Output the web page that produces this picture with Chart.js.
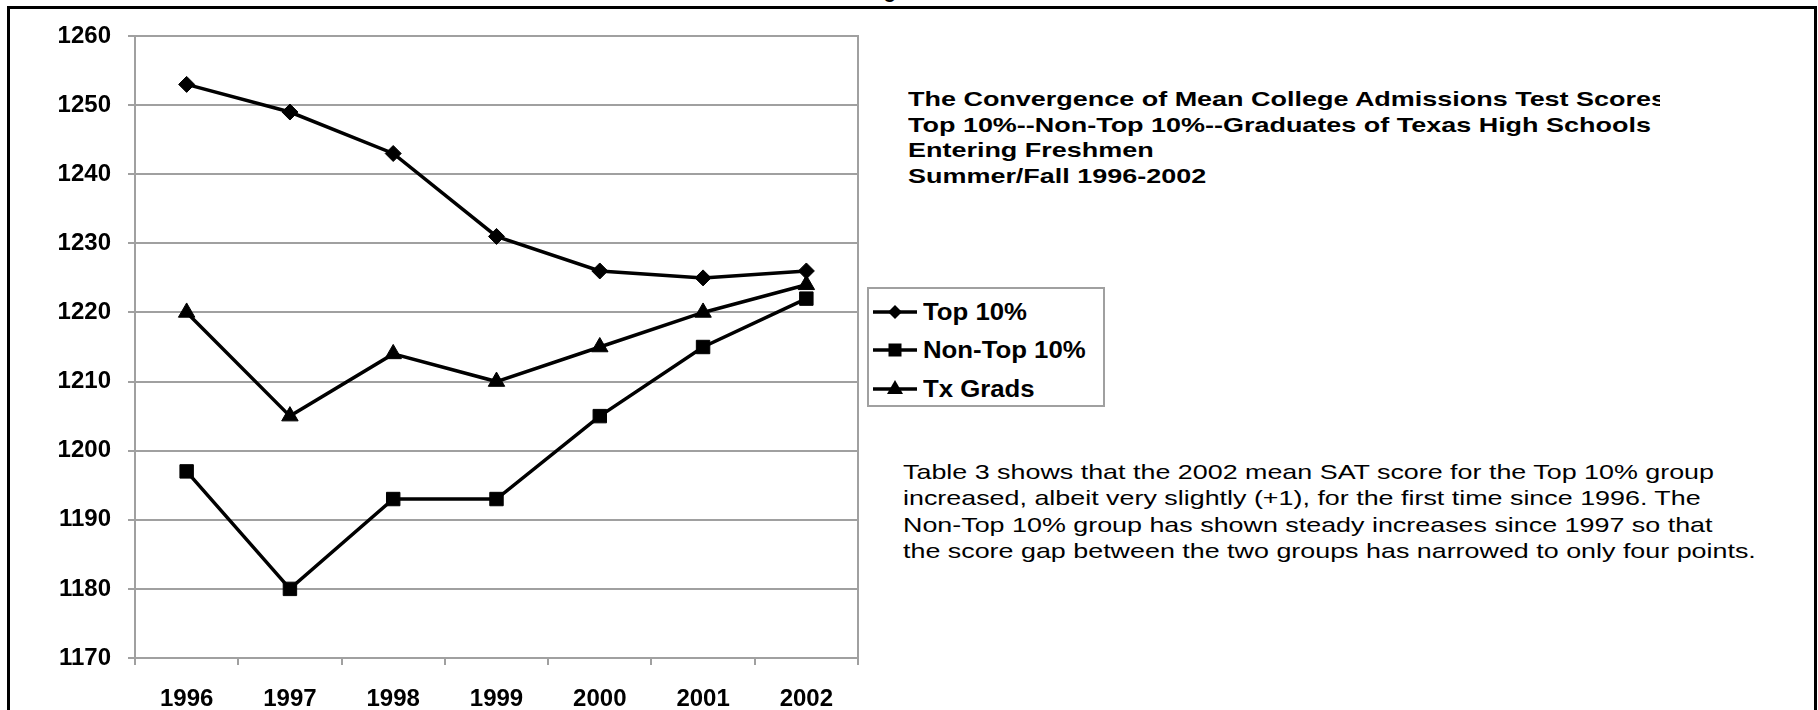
<!DOCTYPE html>
<html>
<head>
<meta charset="utf-8">
<script src="https://cdn.jsdelivr.net/npm/chart.js@4"></script>
<style>
  body { margin: 0; background: #fff; width: 1818px; height: 710px; overflow: hidden; position: relative;
         font-family: "Liberation Sans", Arial, sans-serif; color: #000; }
  #frame { position: absolute; left: 7px; top: 6px; width: 1804px; height: 760px; border: 3px solid #000; }
  #fig { position: absolute; left: 866px; top: -19px; font-size: 20px; line-height: 20px; font-weight: bold; }
  #chart-box { position: absolute; left: 0; top: 0; width: 880px; height: 710px; }
  #legend { position: absolute; left: 867px; top: 287px; width: 234px; height: 116px; border: 2px solid #a0a0a0; background: #fff; }
  .legend-item { position: absolute; left: 4px; height: 30px; display: flex; align-items: center;
                 font-size: 23px; font-weight: bold; }
  .legend-item svg { margin-right: 6px; }
  .legend-item span { display: inline-block; transform: scaleX(1.12); transform-origin: left center; }
  #title-clip { position: absolute; left: 908px; top: 86px; width: 752px; height: 110px; overflow: hidden; }
  #title { font-size: 21px; line-height: 25.5px; font-weight: bold; white-space: nowrap; transform-origin: left top; }
  #note { position: absolute; left: 903px; top: 459px; font-size: 21px; line-height: 26.3px;
          white-space: nowrap; transform-origin: left top; }
</style>
</head>
<body>
<div id="fig">Figure 3</div>
<div id="frame"></div>
<div id="chart-box"><canvas id="sat-chart"></canvas></div>
<div id="legend"></div>
<div id="title-clip"><div id="title"><span id="title-first">The Convergence of Mean College Admissions Test Scores</span><br>Top 10%--Non-Top 10%--Graduates of Texas High Schools<br>Entering Freshmen<br>Summer/Fall 1996-2002</div></div>
<div id="note"><span id="note-first">Table 3 shows that the 2002 mean SAT score for the Top 10% group</span><br>increased, albeit very slightly (+1), for the first time since 1996. The<br>Non-Top 10% group has shown steady increases since 1997 so that<br>the score gap between the two groups has narrowed to only four points.</div>
<script>
// chart data
const years = ['1996', '1997', '1998', '1999', '2000', '2001', '2002'];
const top10 = [1253, 1249, 1243, 1231, 1226, 1225, 1226];
const nonTop10 = [1197, 1180, 1193, 1193, 1205, 1215, 1222];
const txGrads = [1220, 1205, 1214, 1210, 1215, 1220, 1224];
const seriesNames = ['Top 10%', 'Non-Top 10%', 'Tx Grads'];
const yTicks = [1170, 1180, 1190, 1200, 1210, 1220, 1230, 1240, 1250, 1260];

const gridGray = '#a0a0a0';
const tickFont = { family: 'Liberation Sans', size: 24, weight: 'bold' };

function lineSet(label, data, style, radius) {
  return {
    label: label,
    data: data,
    borderColor: '#000',
    backgroundColor: '#000',
    borderWidth: 3.5,
    tension: 0,
    fill: false,
    pointStyle: style,
    pointRadius: radius,
    pointBackgroundColor: '#000',
    pointBorderColor: '#000',
    pointBorderWidth: 1
  };
}

const datasets = [
  lineSet(seriesNames[0], top10, 'rectRot', 8),
  lineSet(seriesNames[1], nonTop10, 'rect', 9.5),
  lineSet(seriesNames[2], txGrads, 'triangle', 9.5)
];

new Chart(document.getElementById('sat-chart'), {
  type: 'line',
  data: { labels: years, datasets: datasets },
  options: {
    responsive: true,
    maintainAspectRatio: false,
    animation: false,
    layout: { padding: { left: 0, right: 22, top: 36, bottom: 0 } },
    plugins: { legend: { display: false }, tooltip: { enabled: false } },
    scales: {
      x: {
        offset: true,
        grid: { offset: true, drawOnChartArea: false, drawTicks: true, tickLength: 7, color: gridGray, lineWidth: 2 },
        border: { color: gridGray, width: 2 },
        ticks: { color: '#000', padding: 20, maxRotation: 0, font: tickFont },
        afterFit: function(scale) { scale.height = 52; }
      },
      y: {
        min: yTicks[0],
        max: yTicks[yTicks.length - 1],
        afterBuildTicks: function(scale) { scale.ticks = yTicks.map(v => ({ value: v })); },
        grid: { color: gridGray, lineWidth: 2, tickLength: 7 },
        border: { color: gridGray, width: 2 },
        ticks: {
          color: '#000', padding: 17, font: tickFont,
          callback: function(value) { return String(value); }
        },
        afterFit: function(scale) { scale.width = 135; }
      },
      yRight: {
        position: 'right',
        min: yTicks[0],
        max: yTicks[yTicks.length - 1],
        grid: { drawOnChartArea: false, drawTicks: false },
        border: { color: gridGray, width: 2 },
        ticks: { display: false },
        afterFit: function(scale) { scale.width = 0; }
      }
    }
  }
});

// legend built from the same datasets
function markerSvg(style) {
  let shape = '';
  if (style === 'rectRot') shape = '<polygon points="22,7 29,14 22,21 15,14" fill="#000"/>';
  if (style === 'rect') shape = '<rect x="15.5" y="7.5" width="13" height="13" fill="#000"/>';
  if (style === 'triangle') shape = '<polygon points="22,5 30,19 14,19" fill="#000"/>';
  return '<svg width="44" height="28"><line x1="0" y1="14" x2="44" y2="14" stroke="#000" stroke-width="3.5"/>' + shape + '</svg>';
}
const legendBox = document.getElementById('legend');
const rowTops = [8, 46, 85];
datasets.forEach((ds, i) => {
  const item = document.createElement('div');
  item.className = 'legend-item';
  item.style.top = rowTops[i] + 'px';
  item.innerHTML = markerSvg(ds.pointStyle) + '<span>' + ds.label + '</span>';
  legendBox.appendChild(item);
});

// the source text is set wide; stretch each block so its first line spans the same width
function stretch(blockId, firstId, targetWidth) {
  const w = document.getElementById(firstId).getBoundingClientRect().width;
  document.getElementById(blockId).style.transform = 'scaleX(' + (targetWidth / w) + ')';
}
stretch('title', 'title-first', 758);
stretch('note', 'note-first', 811);
</script>
</body>
</html>
